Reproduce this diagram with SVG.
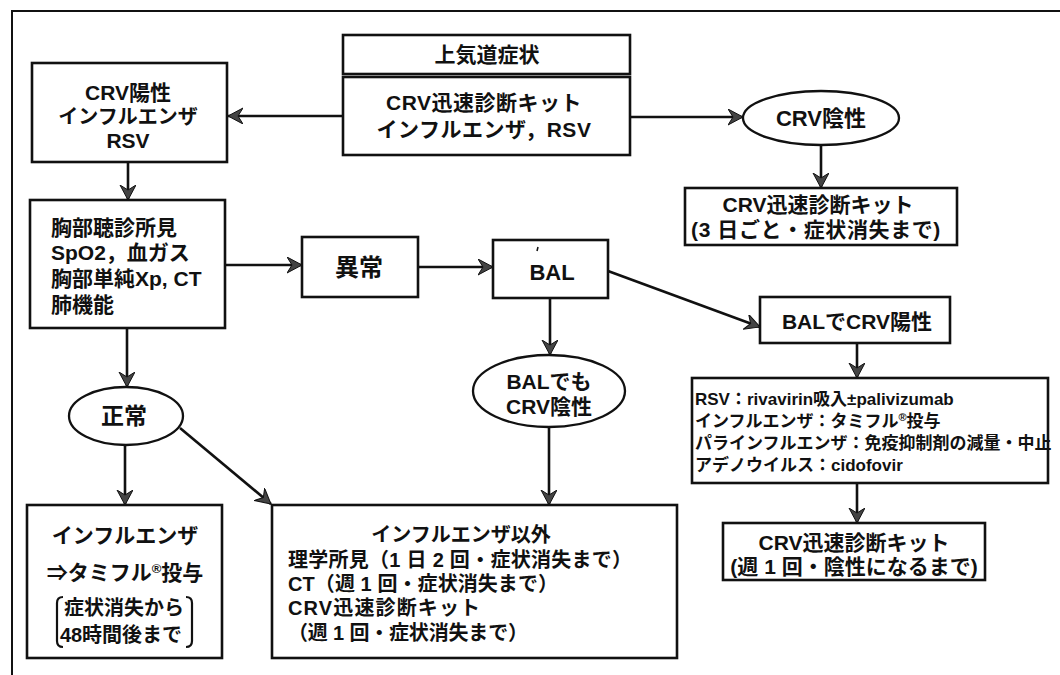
<svg xmlns="http://www.w3.org/2000/svg" width="1060" height="675" viewBox="0 0 1060 675">
<defs>
<style>
.box{fill:#fff;stroke:#111;stroke-width:2.6}
.ell{fill:#fff;stroke:#111;stroke-width:2.3}
.t{font-family:"Liberation Sans","Noto Sans CJK JP",sans-serif;font-weight:bold;fill:#111}
.c{text-anchor:middle}
.con line{stroke:#111;stroke-width:2.6;fill:none}
.frame{stroke:#111;stroke-width:2;fill:none}
</style>
<marker id="ah" markerUnits="userSpaceOnUse" markerWidth="18" markerHeight="18" refX="15" refY="8" orient="auto">
<path d="M0,0 L15,8 L0,16 L5,8 z" fill="#444" stroke="#111" stroke-width="1"/>
</marker>
</defs>
<rect width="1060" height="675" fill="#fff"/>
<path class="frame" d="M12,675 L12,11 L1060,11"/>

<g class="con">
<line x1="343" y1="116" x2="228" y2="116" marker-end="url(#ah)"/>
<line x1="630" y1="117" x2="743" y2="117" marker-end="url(#ah)"/>
<line x1="821" y1="145" x2="821" y2="188" marker-end="url(#ah)"/>
<line x1="128" y1="162" x2="128" y2="200" marker-end="url(#ah)"/>
<line x1="225" y1="265" x2="302" y2="265" marker-end="url(#ah)"/>
<line x1="418" y1="267" x2="493" y2="267" marker-end="url(#ah)"/>
<line x1="608" y1="271" x2="760" y2="327" marker-end="url(#ah)"/>
<line x1="550" y1="298" x2="550" y2="355" marker-end="url(#ah)"/>
<line x1="127" y1="328" x2="127" y2="387" marker-end="url(#ah)"/>
<line x1="125" y1="445" x2="125" y2="505" marker-end="url(#ah)"/>
<line x1="180" y1="428" x2="271" y2="504" marker-end="url(#ah)"/>
<line x1="549" y1="427" x2="549" y2="505" marker-end="url(#ah)"/>
<line x1="857" y1="343" x2="857" y2="378" marker-end="url(#ah)"/>
<line x1="857" y1="483" x2="857" y2="523" marker-end="url(#ah)"/>
</g>

<g id="n-joukidou">
<rect class="box" x="343" y="35" width="287" height="39"/>
<text class="t c" x="487" y="62" font-size="21">上気道症状</text>
</g>
<g id="n-kit-top">
<rect class="box" x="343" y="77" width="287" height="78"/>
<text class="t c" x="484" y="110" font-size="21" letter-spacing="0.5">CRV迅速診断キット</text>
<text class="t c" x="484" y="137" font-size="21" letter-spacing="0.5">インフルエンザ，RSV</text>
</g>
<g id="n-crv-pos">
<rect class="box" x="32" y="63" width="195" height="99"/>
<text class="t c" x="128" y="100" font-size="21">CRV陽性</text>
<text class="t c" x="128" y="124" font-size="20">インフルエンザ</text>
<text class="t c" x="128" y="148" font-size="21">RSV</text>
</g>
<g id="n-crv-neg">
<ellipse class="ell" cx="821" cy="118" rx="78" ry="27"/>
<text class="t c" x="821" y="126" font-size="22">CRV陰性</text>
</g>
<g id="n-kit-3day">
<rect class="box" x="685" y="188" width="272" height="57"/>
<text class="t c" x="818" y="212" font-size="21">CRV迅速診断キット</text>
<text class="t c" x="816" y="237" font-size="21" letter-spacing="0.6">(3 日ごと・症状消失まで)</text>
</g>
<g id="n-exam">
<rect class="box" x="30" y="200" width="195" height="128"/>
<text class="t" x="51" y="235" font-size="21">胸部聴診所見</text>
<text class="t" x="51" y="260" font-size="21">SpO2，血ガス</text>
<text class="t" x="51" y="286" font-size="21">胸部単純Xp, CT</text>
<text class="t" x="51" y="312" font-size="21">肺機能</text>
</g>
<g id="n-abnormal">
<rect class="box" x="302" y="237" width="116" height="60"/>
<text class="t c" x="359" y="276" font-size="24">異常</text>
</g>
<g id="n-bal">
<rect class="box" x="493" y="240" width="115" height="58"/>
<text class="t c" x="552" y="280" font-size="22">BAL</text>
<line x1="538" y1="247" x2="537" y2="251" stroke="#111" stroke-width="1.5"/>
</g>
<g id="n-bal-pos">
<rect class="box" x="760" y="297" width="190" height="46"/>
<text class="t c" x="857" y="329" font-size="21">BALでCRV陽性</text>
</g>
<g id="n-bal-neg">
<ellipse class="ell" cx="549" cy="391" rx="76" ry="36"/>
<text class="t c" x="549" y="389" font-size="21">BALでも</text>
<text class="t c" x="549" y="414" font-size="21">CRV陰性</text>
</g>
<g id="n-normal">
<ellipse class="ell" cx="126" cy="416" rx="57" ry="29"/>
<text class="t c" x="124" y="424" font-size="23">正常</text>
</g>
<g id="n-treat">
<rect class="box" x="692" y="378" width="356" height="105"/>
<text class="t" x="695" y="405" font-size="17">RSV：rivavirin吸入±palivizumab</text>
<text class="t" x="695" y="427" font-size="17">インフルエンザ：タミフル<tspan font-size="11" dy="-6">®</tspan><tspan dy="6">投与</tspan></text>
<text class="t" x="695" y="449" font-size="17">パラインフルエンザ：免疫抑制剤の減量・中止</text>
<text class="t" x="695" y="471" font-size="17">アデノウイルス：cidofovir</text>
</g>
<g id="n-kit-week">
<rect class="box" x="723" y="523" width="262" height="57"/>
<text class="t c" x="854" y="550" font-size="21">CRV迅速診断キット</text>
<text class="t c" x="854" y="574" font-size="21">(週 1 回・陰性になるまで)</text>
</g>
<g id="n-flu">
<rect class="box" x="27" y="505" width="195" height="153"/>
<text class="t c" x="125" y="543" font-size="21">インフルエンザ</text>
<text class="t c" x="125" y="580" font-size="21">⇒タミフル<tspan font-size="13" dy="-7">®</tspan><tspan dy="7">投与</tspan></text>
<text class="t c" x="124" y="615" font-size="20">症状消失から</text>
<text class="t c" x="121" y="642" font-size="20">48時間後まで</text>
<path d="M63,597 Q57,597 57,603 L57,641 Q57,647 63,647" fill="none" stroke="#111" stroke-width="2.2"/>
<path d="M186,597 Q192,597 192,603 L192,641 Q192,647 186,647" fill="none" stroke="#111" stroke-width="2.2"/>
</g>
<g id="n-other">
<rect class="box" x="272" y="505" width="405" height="153"/>
<text class="t c" x="461" y="542" font-size="20">インフルエンザ以外</text>
<text class="t" x="288" y="567" font-size="20" textLength="344" lengthAdjust="spacing">理学所見（1 日 2 回・症状消失まで）</text>
<text class="t" x="288" y="591" font-size="20" textLength="270" lengthAdjust="spacing">CT（週 1 回・症状消失まで）</text>
<text class="t" x="288" y="615" font-size="20" textLength="192" lengthAdjust="spacing">CRV迅速診断キット</text>
<text class="t" x="288" y="640" font-size="20" textLength="240" lengthAdjust="spacing">（週 1 回・症状消失まで）</text>
</g>
</svg>
